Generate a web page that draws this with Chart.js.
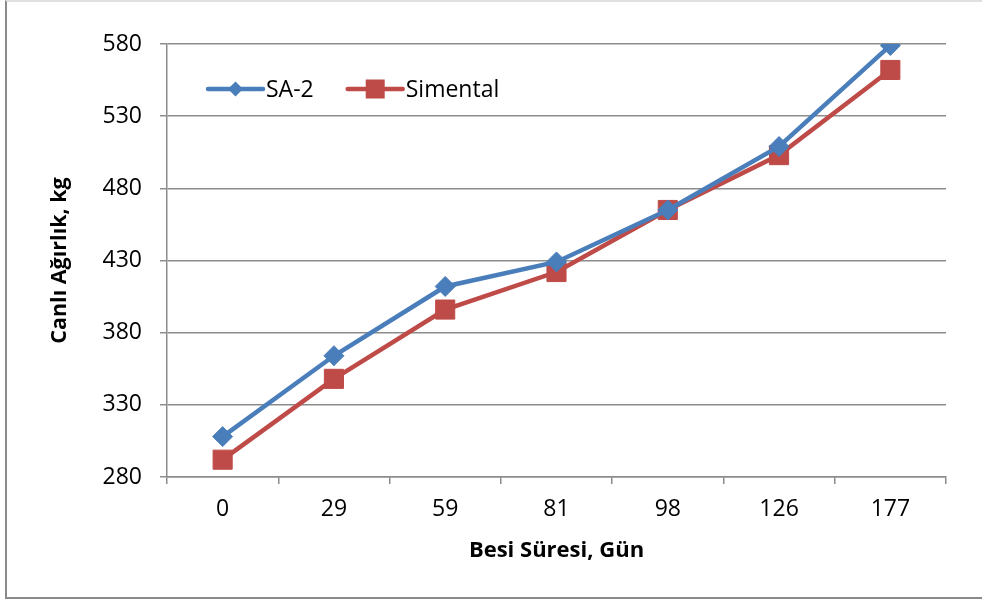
<!DOCTYPE html>
<html>
<head>
<meta charset="utf-8">
<script src="https://cdn.jsdelivr.net/npm/chart.js@4"></script>
<style>
  html, body { margin: 0; padding: 0; background: #fff; }
  #wrap { position: relative; width: 982px; height: 599px; overflow: hidden; }
  #frame { position: absolute; left: 5px; top: 0px; width: 1000px; height: 595px;
           border: 2px solid #8a8a8a; border-top-color: #e0e0e0; box-sizing: content-box; }
  canvas { position: absolute; left: 0; top: 0; }
</style>
</head>
<body>
<div id="wrap">
  <div id="frame"></div>
  <canvas id="myChart" width="982" height="599"></canvas>
</div>
<script>
// days on feed
const days = ["0", "29", "59", "81", "98", "126", "177"];
// live weight, kg
const sa2 = [308, 364, 412, 429, 465, 509, 579];
const simental = [292, 348, 396, 422, 465, 503, 562];

const yMin = 280;
const yMax = 580;
const yStep = 50;

const blue = "#4a7ebb";
const red = "#be4b48";
const gridColor = "#8c8c8c";
const fontFamily = "'Open Sans', 'Liberation Sans', sans-serif";

// legend drawn inside the plot, like the original
const insideLegend = {
  id: "insideLegend",
  afterDraw(chart) {
    const ctx = chart.ctx;
    const area = chart.chartArea;
    const y = area.top + 45;
    let x = area.left + 41;
    ctx.save();
    ctx.font = "23px " + fontFamily;
    ctx.textBaseline = "middle";
    chart.data.datasets.forEach((ds) => {
      ctx.strokeStyle = ds.borderColor;
      ctx.lineWidth = 4.5;
      ctx.lineCap = "round";
      ctx.beginPath();
      ctx.moveTo(x, y);
      ctx.lineTo(x + 55, y);
      ctx.stroke();
      ctx.fillStyle = ds.borderColor;
      const cx = x + 27.5;
      ctx.beginPath();
      if (ds.pointStyle === "rectRot") {
        ctx.moveTo(cx - 7.5, y);
        ctx.lineTo(cx, y - 7.5);
        ctx.lineTo(cx + 7.5, y);
        ctx.lineTo(cx, y + 7.5);
        ctx.closePath();
      } else {
        ctx.rect(cx - 9.5, y - 9.5, 19, 19);
      }
      ctx.fill();
      ctx.fillStyle = "#000";
      ctx.fillText(ds.label, x + 58, y + 1);
      x += 58 + ctx.measureText(ds.label).width + 34;
    });
    ctx.restore();
  },
};

new Chart(document.getElementById("myChart"), {
  type: "line",
  data: {
    labels: days,
    datasets: [
      {
        label: "SA-2",
        data: sa2,
        borderColor: blue,
        backgroundColor: blue,
        borderWidth: 4.5,
        pointStyle: "rectRot",
        pointRadius: 10,
        pointBorderWidth: 1,
        pointBackgroundColor: blue,
        pointBorderColor: blue,
        tension: 0,
      },
      {
        label: "Simental",
        data: simental,
        borderColor: red,
        backgroundColor: red,
        borderWidth: 4.5,
        pointStyle: "rect",
        pointRadius: 13.5,
        pointBorderWidth: 1,
        pointBackgroundColor: red,
        pointBorderColor: red,
        tension: 0,
      },
    ],
  },
  options: {
    responsive: false,
    animation: false,
    layout: { padding: { top: 44, right: 36, left: 0, bottom: 0 } },
    plugins: {
      legend: { display: false },
      tooltip: { enabled: false },
    },
    scales: {
      x: {
        offset: true,
        grid: {
          offset: true,
          drawOnChartArea: false,
          drawTicks: true,
          tickLength: 7,
          color: gridColor,
          lineWidth: 1.5,
        },
        border: { display: true, color: gridColor, width: 1.5 },
        ticks: {
          color: "#000",
          padding: 12,
          font: { family: fontFamily, size: 23 },
        },
        title: {
          display: true,
          text: "Besi Süresi, Gün",
          color: "#000",
          font: { family: fontFamily, size: 22, weight: "bold" },
          padding: { top: 0, bottom: 35 },
        },
        afterFit(scale) {
          scale.height = 122;
        },
      },
      y: {
        min: yMin,
        max: yMax,
        ticks: {
          stepSize: yStep,
          color: "#000",
          padding: 18,
          font: { family: fontFamily, size: 23 },
        },
        grid: {
          color: gridColor,
          lineWidth: 1.5,
          tickLength: 7,
        },
        border: { display: true, color: gridColor, width: 1.5 },
        title: {
          display: true,
          text: "Canlı Ağırlık, kg",
          color: "#000",
          font: { family: fontFamily, size: 21.5, weight: "bold" },
          padding: { top: 47, bottom: 0 },
        },
        afterFit(scale) {
          scale.width = 167;
        },
      },
    },
  },
  plugins: [insideLegend],
});
</script>
</body>
</html>
